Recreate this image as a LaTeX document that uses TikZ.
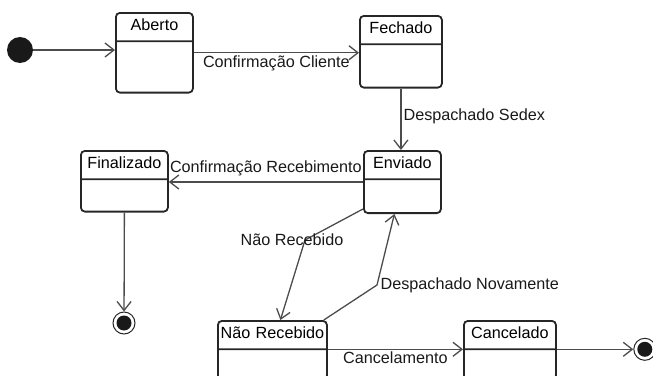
\documentclass[tikz,border=0pt]{standalone}
\usepackage{fontspec}
\setmainfont{Liberation Sans}
\usetikzlibrary{arrows.meta,shapes}

\begin{document}
\begin{tikzpicture}[font=\fontsize{16.2bp}{18.6bp}\selectfont,
  >={Straight Barb[length=9bp,width=14bp]},
  estado/.style={draw=black!85,line width=1.8bp,rounded corners=4bp,rectangle split,rectangle split parts=2,anchor=north west,align=center,inner xsep=2bp,inner ysep=4bp},
  trans/.style={draw=black!70,->,line width=1.3bp},
  rotulo/.style={inner sep=2bp,text=black!90},
  inicio/.style={circle,fill=black!90,minimum size=26bp,inner sep=0pt},
  fim/.style={circle,draw=black!85,line width=1bp,minimum size=22bp,inner sep=0pt,path picture={\fill[black!90] (path picture bounding box.center) circle (7.5bp);}}]
\useasboundingbox (0bp,0bp) rectangle (653bp,-376bp);
\node (ini) at (20bp,-50bp)[inicio] {};
\node (aberto) at (115bp,-12bp)[estado,text width=73bp] {\strut Aberto \nodepart{two} \rule{0pt}{41.5bp}};
\node (fechado) at (359bp,-15bp)[estado,text width=78bp] {\strut Fechado \nodepart{two} \rule{0pt}{33.5bp}};
\node (enviado) at (363bp,-150bp)[estado,text width=73bp] {\strut Enviado \nodepart{two} \rule{0pt}{24bp}};
\node (finalizado) at (80bp,-150bp)[estado,text width=83bp] {\strut Finalizado \nodepart{two} \rule{0pt}{22.5bp}};
\node (naorec) at (217bp,-320bp)[estado,text width=105bp] {\strut N\~ao Recebido \nodepart{two} \rule{0pt}{20.5bp}};
\node (cancelado) at (463bp,-320bp)[estado,text width=88bp] {\strut Cancelado \nodepart{two} \rule{0pt}{20.5bp}};
\node (fimA) at (124bp,-323bp)[fim] {};
\node (fimB) at ([xshift=88bp]cancelado.one split east)[fim] {};
\draw [trans] (ini) -- (ini -| aberto.west);
\draw [trans] (aberto.east) -- node[midway,below,rotulo] {Confirmação Cliente} (aberto.east -| fechado.west);
\draw [trans] (fechado.south) -- node[pos=0.45,right,rotulo] {Despachado Sedex} (fechado.south |- enviado.north);
\draw [trans] (enviado.west) -- node[midway,above,rotulo,yshift=3bp] {Confirmação Recebimento} (enviado.west -| finalizado.east);
\draw [trans] (finalizado.south) -- (fimA);
\draw [trans] ([yshift=5bp]enviado.south west) -- (305bp,-240bp) node[rotulo,xshift=-13bp] {Não Recebido} -- ([xshift=8bp]naorec.north);
\draw [trans] ([xshift=-4bp]naorec.north east) -- (377bp,-285bp) node[right,rotulo,xshift=1bp] {Despachado Novamente} -- ([xshift=-8bp]enviado.south);
\draw [trans] (naorec.one split east) -- node[midway,below,rotulo] {Cancelamento} (naorec.one split east -| cancelado.west);
\draw [trans] (cancelado.one split east) -- (fimB);
\end{tikzpicture}
\end{document}
